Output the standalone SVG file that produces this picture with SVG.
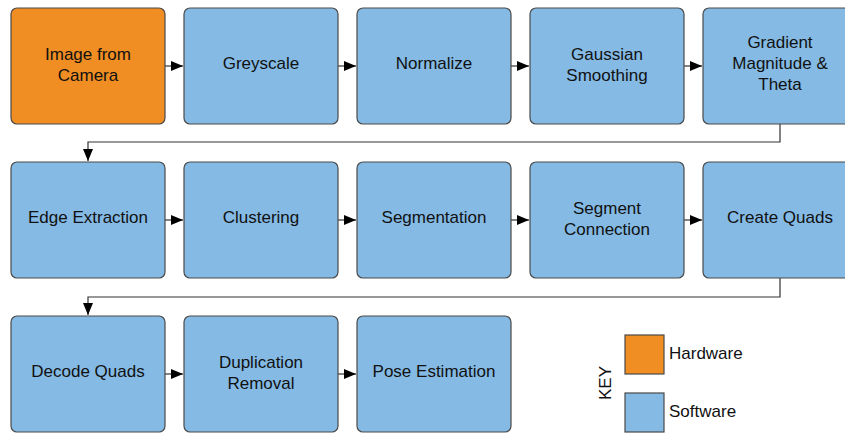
<svg xmlns="http://www.w3.org/2000/svg" width="845" height="434" viewBox="0 0 845 434">
<defs>
<style>
.hw{fill:#F08D23;stroke:#4a4a4a;stroke-width:1.2}
.sw{fill:#84BAE4;stroke:#4a4a4a;stroke-width:1.2}
.t{font-family:"Liberation Sans",Arial,sans-serif;font-size:17px;fill:#111;text-anchor:middle}
.k{font-family:"Liberation Sans",Arial,sans-serif;font-size:17px;fill:#111}
.c{fill:none;stroke:#333;stroke-width:1.2}
</style>
<marker id="ah" viewBox="0 0 12 10" refX="12" refY="5" markerWidth="12" markerHeight="10" markerUnits="userSpaceOnUse" orient="auto">
<path d="M0,0 L12,5 L0,10 Z" fill="#000"/>
</marker>
</defs>
<rect width="845" height="434" fill="#fff"/>
<g id="connectors">
<line class="c" x1="165" y1="66" x2="183" y2="66" marker-end="url(#ah)"/>
<line class="c" x1="338" y1="66" x2="356" y2="66" marker-end="url(#ah)"/>
<line class="c" x1="511" y1="66" x2="529" y2="66" marker-end="url(#ah)"/>
<line class="c" x1="684" y1="66" x2="702" y2="66" marker-end="url(#ah)"/>
<polyline class="c" points="780,124 780,142 88,142 88,161" marker-end="url(#ah)"/>
<line class="c" x1="165" y1="220" x2="183" y2="220" marker-end="url(#ah)"/>
<line class="c" x1="338" y1="220" x2="356" y2="220" marker-end="url(#ah)"/>
<line class="c" x1="511" y1="220" x2="529" y2="220" marker-end="url(#ah)"/>
<line class="c" x1="684" y1="220" x2="702" y2="220" marker-end="url(#ah)"/>
<polyline class="c" points="780,278 780,297 88,297 88,315" marker-end="url(#ah)"/>
<line class="c" x1="165" y1="374" x2="183" y2="374" marker-end="url(#ah)"/>
<line class="c" x1="338" y1="374" x2="356" y2="374" marker-end="url(#ah)"/>
</g>
<g id="n1"><rect class="hw" x="11" y="8" width="154" height="116" rx="6"/><text class="t" x="88" y="60">Image from</text><text class="t" x="88" y="81">Camera</text></g>
<g id="n2"><rect class="sw" x="184" y="8" width="154" height="116" rx="6"/><text class="t" x="261" y="69">Greyscale</text></g>
<g id="n3"><rect class="sw" x="357" y="8" width="154" height="116" rx="6"/><text class="t" x="434" y="69">Normalize</text></g>
<g id="n4"><rect class="sw" x="530" y="8" width="154" height="116" rx="6"/><text class="t" x="607" y="60">Gaussian</text><text class="t" x="607" y="81">Smoothing</text></g>
<g id="n5"><rect class="sw" x="703" y="8" width="154" height="116" rx="6"/><text class="t" x="780" y="48">Gradient</text><text class="t" x="780" y="69">Magnitude &amp;</text><text class="t" x="780" y="90">Theta</text></g>
<g id="n6"><rect class="sw" x="11" y="162" width="154" height="116" rx="6"/><text class="t" x="88" y="223">Edge Extraction</text></g>
<g id="n7"><rect class="sw" x="184" y="162" width="154" height="116" rx="6"/><text class="t" x="261" y="223">Clustering</text></g>
<g id="n8"><rect class="sw" x="357" y="162" width="154" height="116" rx="6"/><text class="t" x="434" y="223">Segmentation</text></g>
<g id="n9"><rect class="sw" x="530" y="162" width="154" height="116" rx="6"/><text class="t" x="607" y="214">Segment</text><text class="t" x="607" y="235">Connection</text></g>
<g id="n10"><rect class="sw" x="703" y="162" width="154" height="116" rx="6"/><text class="t" x="780" y="223">Create Quads</text></g>
<g id="n11"><rect class="sw" x="11" y="316" width="154" height="116" rx="6"/><text class="t" x="88" y="377">Decode Quads</text></g>
<g id="n12"><rect class="sw" x="184" y="316" width="154" height="116" rx="6"/><text class="t" x="261" y="368">Duplication</text><text class="t" x="261" y="389">Removal</text></g>
<g id="n13"><rect class="sw" x="357" y="316" width="154" height="116" rx="6"/><text class="t" x="434" y="377">Pose Estimation</text></g>
<g id="key">
<text class="k" x="0" y="0" transform="translate(611,383) rotate(-90)" text-anchor="middle">KEY</text>
<rect class="hw" x="625" y="335" width="39" height="39" rx="0"/>
<text class="k" x="669" y="359">Hardware</text>
<rect class="sw" x="625" y="393" width="39" height="39" rx="0"/>
<text class="k" x="669" y="417">Software</text>
</g>
</svg>
